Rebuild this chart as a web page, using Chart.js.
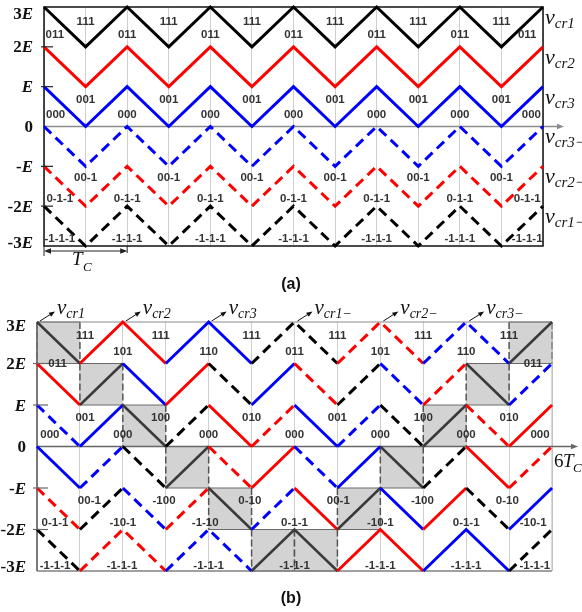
<!DOCTYPE html>
<html>
<head>
<meta charset="utf-8">
<script src="https://cdn.jsdelivr.net/npm/chart.js@4.4.1/dist/chart.umd.min.js"></script>
<style>
  html, body { margin: 0; padding: 0; background: #fff; }
  #wrapA { position: absolute; left: 0; top: 0; width: 582px; height: 300px; }
  #wrapB { position: absolute; left: 0; top: 300px; width: 582px; height: 312px; }
</style>
</head>
<body>
<div id="wrapA"><canvas id="chartA" width="582" height="300"></canvas></div>
<div id="wrapB"><canvas id="chartB" width="582" height="312"></canvas></div>
<script>
// ---------------- Datos ----------------

const times = [0, 0.5, 1, 1.5, 2, 2.5, 3, 3.5, 4, 4.5, 5, 5.5, 6];

// portadoras (en unidades de E)
const vcr1  = [3, 2, 3, 2, 3, 2, 3, 2, 3, 2, 3, 2, 3];
const vcr2  = [2, 1, 2, 1, 2, 1, 2, 1, 2, 1, 2, 1, 2];
const vcr3  = [1, 0, 1, 0, 1, 0, 1, 0, 1, 0, 1, 0, 1];
const vcr3n = [0, -1, 0, -1, 0, -1, 0, -1, 0, -1, 0, -1, 0];
const vcr2n = [-1, -2, -1, -2, -1, -2, -1, -2, -1, -2, -1, -2, -1];
const vcr1n = [-2, -3, -2, -3, -2, -3, -2, -3, -2, -3, -2, -3, -2];

const levelValues = [3, 2, 1, 0, -1, -2, -3];
const levelPrefix = ['3', '2', '', '0', '-', '-2', '-3'];
const levelSuffix = ['E', 'E', 'E', '', 'E', 'E', 'E'];

// (a) estilos de cada portadora
const styleA = ['K', 'R', 'B', 'B-', 'R-', 'K-'];
const namesA = ['cr1', 'cr2', 'cr3', 'cr3−', 'cr2−', 'cr1−'];

// (b) estilo de cada medio periodo, por banda (de 3E a -3E)
const styleB5 = ['G', 'R', 'R', 'B', 'B', 'K-', 'K-', 'R-', 'R-', 'B-', 'B-', 'G'];
const styleB4 = ['R', 'G', 'B', 'R', 'K-', 'B', 'R-', 'K-', 'B-', 'R-', 'G', 'B-'];
const styleB3 = ['B-', 'B', 'G', 'K-', 'R', 'R-', 'B', 'B-', 'K-', 'G', 'R-', 'R'];
const styleB2 = ['B', 'B-', 'K-', 'G', 'R-', 'R', 'B-', 'B', 'G', 'K-', 'R', 'R-'];
const styleB1 = ['R-', 'K-', 'B-', 'R-', 'G', 'B-', 'R', 'G', 'B', 'R', 'K-', 'B'];
const styleB0 = ['K-', 'R-', 'R-', 'B-', 'B-', 'G', 'G', 'R', 'R', 'B', 'B', 'K-'];
const shadeBand = [5, 4, 3, 2, 1, 0, 0, 1, 2, 3, 4, 5];

const namesB = ['cr1', 'cr2', 'cr3', 'cr1−', 'cr2−', 'cr3−'];
const peaksB = [0, 1, 2, 3, 4, 5];

// etiquetas de estados
const statesA = [
    { text: '111', v: 2.62, t: [0.5, 1.5, 2.5, 3.5, 4.5, 5.5] },
    { text: '011', v: 2.3, t: [0.13, 1, 2, 3, 4, 5, 5.81] },
    { text: '001', v: 0.67, t: [0.5, 1.5, 2.5, 3.5, 4.5, 5.5] },
    { text: '000', v: 0.3, t: [0.14, 1, 2, 3, 4, 5, 5.86] },
    { text: '00-1', v: -1.3, t: [0.5, 1.5, 2.5, 3.5, 4.5, 5.5] },
    { text: '0-1-1', v: -1.82, t: [0.19, 1, 2, 3, 4, 5, 5.81] },
    { text: '-1-1-1', v: -2.82, t: [0.19, 1, 2, 3, 4, 5, 5.81] }
];

const statesB = [
    ['111', 0.56, 2.66], ['111', 1.44, 2.66], ['111', 2.5, 2.66], ['111', 3.5, 2.66], ['111', 4.5, 2.66], ['111', 5.5, 2.66],
    ['011', 0.24, 2.0], ['011', 5.78, 2.0],
    ['101', 1, 2.28], ['110', 2, 2.28], ['011', 3, 2.28], ['101', 4, 2.28], ['110', 5, 2.28],
    ['001', 0.56, 0.69], ['100', 1.44, 0.69], ['010', 2.5, 0.69], ['001', 3.5, 0.69], ['100', 4.5, 0.69], ['010', 5.5, 0.69],
    ['000', 0.15, 0.28], ['000', 1, 0.28], ['000', 2, 0.28], ['000', 3, 0.28], ['000', 4, 0.28], ['000', 5, 0.28], ['000', 5.86, 0.28],
    ['00-1', 0.61, -1.31], ['-100', 1.48, -1.31], ['0-10', 2.48, -1.31], ['00-1', 3.51, -1.31], ['-100', 4.49, -1.31], ['0-10', 5.48, -1.31],
    ['0-1-1', 0.21, -1.84], ['-10-1', 1, -1.84], ['-1-10', 1.96, -1.84], ['0-1-1', 3, -1.84], ['-10-1', 4, -1.84], ['0-1-1', 5, -1.84], ['-10-1', 5.78, -1.84],
    ['-1-1-1', 0.21, -2.88], ['-1-1-1', 0.99, -2.88], ['-1-1-1', 2, -2.88], ['-1-1-1', 3, -2.88], ['-1-1-1', 4, -2.88], ['-1-1-1', 5, -2.88], ['-1-1-1', 5.8, -2.88]
];

// ---------------- Estilos ----------------

const DASH = [10, 6];
const styleMap = {
    'K':  { color: '#000000', dash: [], width: 3 },
    'K-': { color: '#000000', dash: DASH, width: 3 },
    'R':  { color: '#ff0000', dash: [], width: 3 },
    'R-': { color: '#ff0000', dash: DASH, width: 3 },
    'B':  { color: '#0000ff', dash: [], width: 3 },
    'B-': { color: '#0000ff', dash: DASH, width: 3 },
    'G':  { color: '#3a3a3a', dash: [], width: 2.5 }
};

const SERIF = '"Liberation Serif", "Times New Roman", serif';
const SANS = '"Liberation Sans", Arial, sans-serif';

function toPoints(values) {
    return times.map((t, i) => ({ x: t, y: values[i] }));
}

function baseOptions(padding) {
    return {
        responsive: false,
        animation: false,
        events: [],
        layout: { padding, autoPadding: false },
        plugins: { legend: { display: false }, tooltip: { enabled: false } },
        elements: {
            point: { radius: 0 },
            line: { tension: 0, borderWidth: 3, borderJoinStyle: 'miter', borderCapStyle: 'butt' }
        },
        scales: {
            x: {
                type: 'linear', min: 0, max: 6,
                ticks: { display: false, stepSize: 0.5 },
                grid: { color: '#cfcfcf', lineWidth: 1, drawTicks: false },
                border: { display: false }
            },
            y: {
                type: 'linear', min: -3, max: 3,
                ticks: { display: false },
                grid: { display: false },
                border: { display: false }
            }
        }
    };
}

// ---------------- Helpers de dibujo ----------------

function line(ctx, x0, y0, x1, y1, color, width, dash) {
    ctx.save();
    ctx.strokeStyle = color;
    ctx.lineWidth = width;
    ctx.setLineDash(dash || []);
    ctx.beginPath();
    ctx.moveTo(x0, y0);
    ctx.lineTo(x1, y1);
    ctx.stroke();
    ctx.restore();
}

function arrowHead(ctx, x, y, angle, size, color) {
    ctx.save();
    ctx.fillStyle = color;
    ctx.translate(x, y);
    ctx.rotate(angle);
    ctx.beginPath();
    ctx.moveTo(0, 0);
    ctx.lineTo(-size, -size * 0.4);
    ctx.lineTo(-size, size * 0.4);
    ctx.closePath();
    ctx.fill();
    ctx.restore();
}

function drawLevels(ctx, chart, rightX, size, shiftTop, shiftBottom, tickFrom, tickTo, tickColor) {
    const ys = chart.scales.y;
    const left = chart.chartArea.left;
    levelValues.forEach((v, i) => {
        let y = ys.getPixelForValue(v);
        if (v === 1 || v === 2 || v === -1 || v === -2) {
            line(ctx, left + tickFrom, y, left + tickTo, y, tickColor, 1.2);
        }
        if (v === 3) y += shiftTop;
        if (v === -3) y += shiftBottom;
        const base = y + size * 0.33;
        ctx.save();
        ctx.fillStyle = '#111';
        ctx.textBaseline = 'alphabetic';
        ctx.font = `bold ${size}px ${SERIF}`;
        const w1 = ctx.measureText(levelPrefix[i]).width;
        ctx.font = `italic bold ${size}px ${SERIF}`;
        const w2 = ctx.measureText(levelSuffix[i]).width;
        const x0 = rightX - w1 - w2;
        ctx.font = `bold ${size}px ${SERIF}`;
        ctx.fillText(levelPrefix[i], x0, base);
        ctx.font = `italic bold ${size}px ${SERIF}`;
        ctx.fillText(levelSuffix[i], x0 + w1, base);
        ctx.restore();
    });
}

function drawCarrierName(ctx, x, base, sub, big, small) {
    ctx.save();
    ctx.fillStyle = '#111';
    ctx.textBaseline = 'alphabetic';
    ctx.font = `italic ${big}px ${SERIF}`;
    ctx.fillText('v', x, base);
    const w = ctx.measureText('v').width;
    ctx.font = `italic ${small}px ${SERIF}`;
    ctx.fillText(sub, x + w, base + 4);
    ctx.restore();
}

function drawState(ctx, chart, text, t, v) {
    ctx.save();
    ctx.fillStyle = '#333';
    ctx.font = `bold 11.5px ${SANS}`;
    ctx.textAlign = 'center';
    ctx.textBaseline = 'middle';
    ctx.fillText(text, chart.scales.x.getPixelForValue(t), chart.scales.y.getPixelForValue(v));
    ctx.restore();
}

// ---------------- Panel (a) ----------------

const panelA = {
    id: 'panelA',
    beforeDatasetsDraw(chart) {
        const { ctx, chartArea: a } = chart;
        const y0 = chart.scales.y.getPixelForValue(0);
        line(ctx, a.left, y0, 560, y0, '#8a8a8a', 1.5);
        arrowHead(ctx, 564, y0, 0, 7, '#8a8a8a');
        ctx.save();
        ctx.strokeStyle = '#111';
        ctx.lineWidth = 1.5;
        ctx.strokeRect(a.left, a.top, a.right - a.left, a.bottom - a.top);
        ctx.restore();
    },
    afterDatasetsDraw(chart) {
        const { ctx, chartArea: a } = chart;
        const xs = chart.scales.x, ys = chart.scales.y;

        drawLevels(ctx, chart, 33, 17, 6, -4, -3, 9, '#222');

        statesA.forEach(row => row.t.forEach(t => drawState(ctx, chart, row.text, t, row.v)));

        const centers = [2.5, 1.5, 0.5, -0.5, -1.5, -2.5];
        namesA.forEach((n, i) => drawCarrierName(ctx, a.right + 2, ys.getPixelForValue(centers[i]) - 3, n, 22, 15));

        // cota T_C
        const xL = xs.getPixelForValue(0), xR = xs.getPixelForValue(1);
        line(ctx, xL, a.bottom, xL, a.bottom + 10, '#222', 1);
        line(ctx, xR, a.bottom, xR, a.bottom + 7, '#222', 1);
        const yd = a.bottom + 5;
        line(ctx, xL + 2, yd, xR - 2, yd, '#222', 1);
        arrowHead(ctx, xL, yd, Math.PI, 7, '#222');
        arrowHead(ctx, xR, yd, 0, 7, '#222');
        ctx.save();
        ctx.fillStyle = '#111';
        ctx.font = `italic 19px ${SERIF}`;
        ctx.fillText('T', 72, 265);
        ctx.font = `italic 13px ${SERIF}`;
        ctx.fillText('C', 83, 271);
        ctx.font = `bold 16px ${SANS}`;
        ctx.textAlign = 'center';
        ctx.fillText('(a)', 291, 289);
        ctx.restore();
    }
};

new Chart(document.getElementById('chartA'), {
    type: 'line',
    data: {
        datasets: [vcr1, vcr2, vcr3, vcr3n, vcr2n, vcr1n].map((vals, i) => ({
            data: toPoints(vals),
            borderColor: styleMap[styleA[i]].color,
            borderDash: styleMap[styleA[i]].dash,
            borderWidth: 3,
            clip: false
        }))
    },
    options: baseOptions({ left: 36, right: 39, top: 7, bottom: 54 }),
    plugins: [panelA]
});

// ---------------- Panel (b) ----------------

const panelB = {
    id: 'panelB',
    beforeDatasetsDraw(chart) {
        const { ctx, chartArea: a } = chart;
        const xs = chart.scales.x, ys = chart.scales.y;

        // cajas sombreadas
        shadeBand.forEach((band, k) => {
            const x0 = xs.getPixelForValue(times[k]), x1 = xs.getPixelForValue(times[k + 1]);
            const yT = ys.getPixelForValue(band - 2), yB = ys.getPixelForValue(band - 3);
            ctx.save();
            ctx.fillStyle = '#d3d3d3';
            ctx.fillRect(x0, yT, x1 - x0, yB - yT);
            ctx.restore();
            line(ctx, x0, yT, x1, yT, '#6a6a6a', 1);
            line(ctx, x0, yB, x1, yB, '#6a6a6a', 1);
            line(ctx, x0, yT, x0, yB, '#555', 1.5, [7, 3]);
            line(ctx, x1, yT, x1, yB, '#555', 1.5, [7, 3]);
        });

        const y0 = ys.getPixelForValue(0);
        line(ctx, a.left, a.top, a.right, a.top, '#8a8a8a', 1.2);
        line(ctx, a.left, a.bottom, a.right, a.bottom, '#808080', 1.5);
        line(ctx, a.right, a.top, a.right, a.bottom, '#b5b5b5', 1);
        line(ctx, a.left, a.top, a.left, a.bottom, '#6e6e6e', 1.8);
        line(ctx, a.left, y0, 573, y0, '#666', 1.5);
        arrowHead(ctx, 578, y0, 0, 7, '#666');
    },
    afterDatasetsDraw(chart) {
        const { ctx, chartArea: a } = chart;
        const xs = chart.scales.x;

        drawLevels(ctx, chart, 26, 17, 3, -5, -4, 11, '#666');

        statesB.forEach(([text, t, v]) => drawState(ctx, chart, text, t, v));

        peaksB.forEach((t, i) => {
            const xp = xs.getPixelForValue(t);
            line(ctx, xp + 3, a.top - 1, xp + 14, a.top - 8, '#111', 1);
            arrowHead(ctx, xp + 18, a.top - 10.5, Math.atan2(-7, 11), 6, '#111');
            drawCarrierName(ctx, xp + 20, a.top - 8, namesB[i], 21, 14);
        });

        ctx.save();
        ctx.fillStyle = '#111';
        ctx.font = `19px ${SERIF}`;
        ctx.fillText('6', 554, 167);
        ctx.font = `italic 19px ${SERIF}`;
        ctx.fillText('T', 563, 167);
        ctx.font = `italic 13px ${SERIF}`;
        ctx.fillText('C', 573, 172);
        ctx.font = `bold 16px ${SANS}`;
        ctx.textAlign = 'center';
        ctx.fillText('(b)', 291, 303);
        ctx.restore();
    }
};

const bandValues = [vcr1, vcr2, vcr3, vcr3n, vcr2n, vcr1n];
const bandStyles = [styleB5, styleB4, styleB3, styleB2, styleB1, styleB0];

new Chart(document.getElementById('chartB'), {
    type: 'line',
    data: {
        datasets: bandValues.map((vals, i) => ({
            data: toPoints(vals),
            borderColor: styleMap[bandStyles[i][0]].color,
            borderWidth: 3,
            clip: false,
            segment: {
                borderColor: c => styleMap[bandStyles[i][c.p0DataIndex]].color,
                borderDash: c => styleMap[bandStyles[i][c.p0DataIndex]].dash,
                borderWidth: c => styleMap[bandStyles[i][c.p0DataIndex]].width
            }
        }))
    },
    options: baseOptions({ left: 29, right: 30, top: 22, bottom: 41 }),
    plugins: [panelB]
});
</script>
</body>
</html>
